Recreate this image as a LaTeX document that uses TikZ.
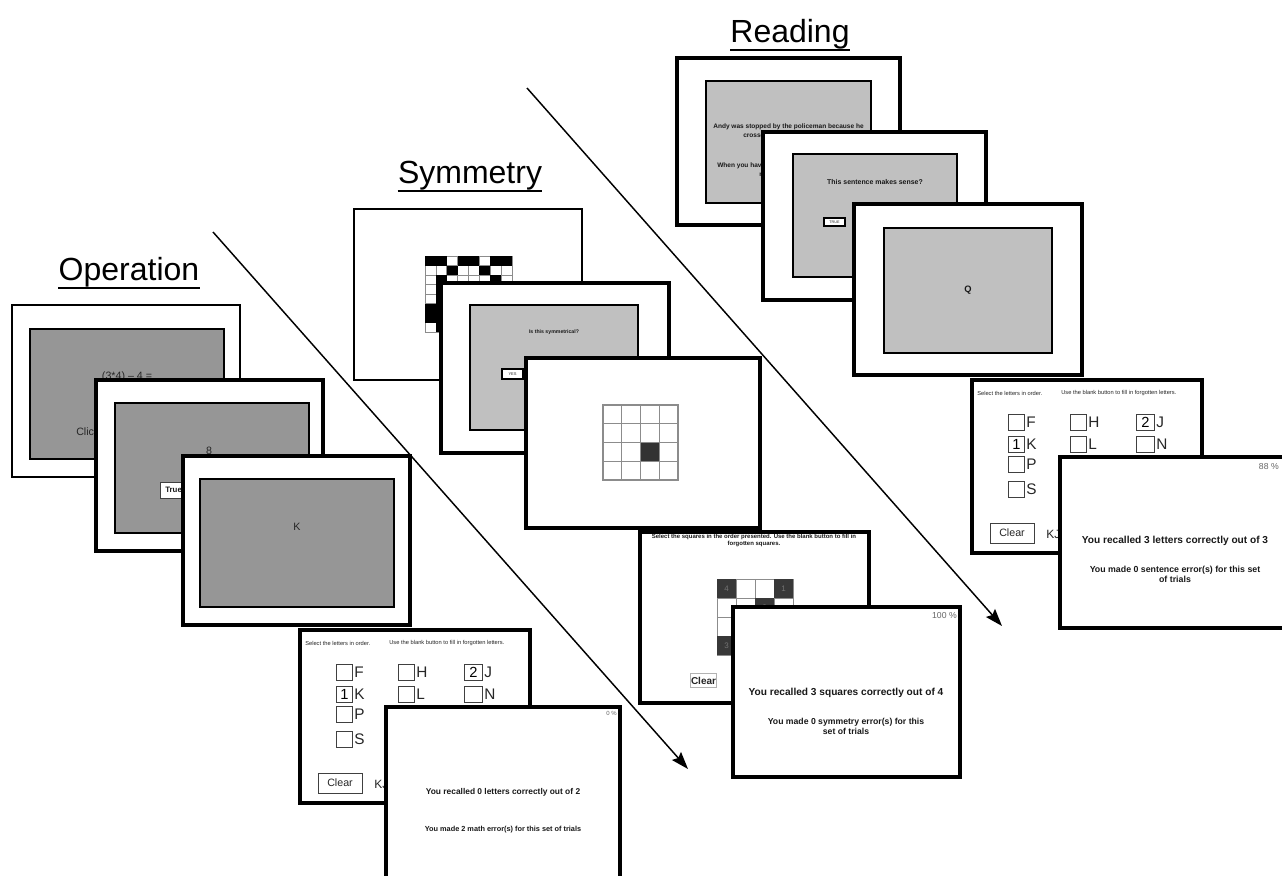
\documentclass[tikz,border=0pt]{standalone}
\usepackage{fontspec}
\setmainfont{Liberation Sans}
\usetikzlibrary{arrows.meta}
\definecolor{opgray}{HTML}{969696}
\definecolor{lightpane}{HTML}{C0C0C0}

\begin{document}
\begin{tikzpicture}[x=0.75pt,y=-0.75pt,>={Stealth[length=13pt,width=9pt,inset=2pt]},
                    screen/.style={draw=black,line width=1.5pt,fill=white},
                    heavy/.style={screen,line width=2.3pt},
                    pane/.style={draw=black,line width=1.6pt,fill=#1},
                    pane/.default=opgray,
                    txt/.style={inner sep=0,text=black!85,font=\fontsize{#1}{#1}\selectfont},
                    boldtxt/.style={inner sep=0,align=center,text=black!90,font=\bfseries\fontsize{#1}{#1}\selectfont},
                    heading/.style={inner sep=0,anchor=base,font=\fontsize{24}{24}\selectfont},
                    cell/.style={draw=black!45,line width=0.5pt},
                    chk/.style={draw=black!75,line width=0.6pt,minimum height=12pt,inner sep=0,anchor=west,font=\fontsize{11}{11}\selectfont},
                    btn/.style={draw=black!75,line width=0.6pt,fill=white,inner sep=0,text=black!85},
                    letters/.pic={
                      \draw[heavy,line width=2.8pt] (0,0) rectangle (230,173);
                      \node[txt=4.3,anchor=west] (-sel) at (5,13) {Select the letters in order.};
                      \node[txt=4.3,anchor=west] (-use) at (89,13) {Use the blank button to fill in forgotten letters.};
                      \foreach \x/\y/\ltr/\dig/\w in {36/42/F//12,36/64/K/1/12,36/84/P//12,36/109/S//12,
                                                     98/42/H//12,98/64/L//12,164/42/J/2/13.5,164/64/N//13.5}{
                        \node[chk,minimum width=\w pt] (-box\ltr) at (\x,\y) {\dig};
                        \node[txt=11.5,anchor=west] (-ltr\ltr) at ([xshift=1pt]-box\ltr.east) {\ltr};
                      }
                      \node[btn,minimum width=33pt,minimum height=15pt,font=\fontsize{8}{8}\selectfont] (-clear) at (40,153) {Clear};
                      \node[txt=9,anchor=west] (-kj) at (74,154) {KJ};
                    }]

  \path[use as bounding box,clip] (0,0) rectangle (1282,875);
  \fill[white] (0,0) rectangle (1282,875);

  % dividing arrows
  \coordinate (opfrom) at (213,232);
  \coordinate (opto) at (688,769);
  \coordinate (symfrom) at (527,88);
  \coordinate (symto) at (1002,626);
  \draw[->,line width=1.1pt] (opfrom) -- (opto);
  \draw[->,line width=1.1pt] (symfrom) -- (symto);

  % titles
  \node[heading] (optitle) at (129,280) {Operation};
  \node[heading] (symtitle) at (470,183) {Symmetry};
  \node[heading] (rdtitle) at (790,42) {Reading};
  \foreach \ttl in {optitle,symtitle,rdtitle}
    \draw[line width=1.3pt] ([yshift=-0.6pt]\ttl.south west) -- ([yshift=-0.6pt]\ttl.south east);

  % Operation
  \draw[screen] (12,305) rectangle (240,477);
  \draw[pane] (30,329) rectangle (224,459);
  \node[txt=8] (opeq) at (127,377) {(3*4) \textendash\ 4 =};
  \node[txt=8,anchor=west] (opclick) at (76,432) {Click};
  \draw[heavy] (96,380) rectangle (323,551);
  \draw[pane] (115,403) rectangle (309,533);
  \node[txt=8] (opanswer) at (209,451) {8};
  \draw[draw=black!75,line width=0.6pt,fill=white] (160,482) rectangle (205,498);
  \node[boldtxt=5.9,anchor=west] (optrue) at (165,490) {True};
  \draw[heavy] (183,456) rectangle (410,625);
  \draw[pane] (200,479) rectangle (394,607);
  \node[txt=8] (opletter) at (297,527) {K};
  \pic (opl) at (300,630) {letters};
  \draw[heavy] (386,707) rectangle (620,900);
  \node[txt=4.5,text=black!60,anchor=east] (oppct) at (617,713) {0 \%};
  \node[boldtxt=6.3] (oprecall) at (503,792) {You recalled 0 letters correctly out of 2};
  \node[boldtxt=5.5] (operrors) at (503,830) {You made 2 math error(s) for this set of trials};

  % Symmetry
  \draw[screen] (354,209) rectangle (582,380);
  \foreach \r in {0,...,7}
    \foreach \c in {0,...,7}
      \draw[cell] (425+\c*10.875,256+\r*9.5) rectangle +(10.875,9.5);
  \foreach \c/\r in {0/0,1/0,3/0,4/0,6/0,7/0,2/1,5/1,1/2,6/2,1/3,6/3,1/4,6/4,
                     0/5,1/5,6/5,7/5,0/6,1/6,6/6,7/6,1/7,6/7}
    \fill[black] (425+\c*10.875,256+\r*9.5) rectangle +(10.875,9.5);
  \draw[heavy] (441,283) rectangle (669,453);
  \draw[pane=lightpane] (470,305) rectangle (638,430);
  \node[boldtxt=3.9] (symquestion) at (554,332) {Is this symmetrical?};
  \node[btn,draw=black,line width=1.4pt,minimum width=15.75pt,minimum height=7.5pt,font=\fontsize{3}{3}\selectfont] (symyes) at (512.5,374) {YES};
  \draw[heavy] (526,358) rectangle (760,528);
  \foreach \r in {0,...,3}
    \foreach \c in {0,...,3}
      \draw[cell,line width=0.8pt] (603+\c*18.75,405+\r*18.75) rectangle +(18.75,18.75);
  \fill[black!80] (603+2*18.75,405+2*18.75) rectangle +(18.75,18.75);
  \draw[heavy] (640,532) rectangle (869,703);
  \node[boldtxt=4.5,font=\bfseries\fontsize{4.5}{5.3}\selectfont] (symselect) at (754,540.5)
    {Select the squares in the order presented. Use the blank button to fill in\\forgotten squares.};
  \foreach \r in {0,...,3}
    \foreach \c in {0,...,3}
      \draw[cell] (717+\c*19,579+\r*19) rectangle +(19,19);
  \foreach \c/\r/\nr in {0/0/4,3/0/1,2/1/2,0/3/3}{
    \fill[black!78] (717+\c*19,579+\r*19) rectangle +(19,19);
    \node[txt=6,text=black!55] (sq\nr) at (726.5+\c*19,588.5+\r*19) {\nr};
  }
  \node[btn,draw=black!30,minimum width=20pt,minimum height=11pt,font=\bfseries\fontsize{7.5}{7.5}\selectfont] (symclear) at (703.5,680.5) {Clear};
  \draw[heavy] (733,607) rectangle (960,777);
  \node[txt=6.5,text=black!60,anchor=east] (sympct) at (957,616) {100 \%};
  \node[boldtxt=7.6] (symrecall) at (846,693) {You recalled 3 squares correctly out of 4};
  \node[boldtxt=6.5,font=\bfseries\fontsize{6.5}{7.5}\selectfont] (symerrors) at (846,726)
    {You made 0 symmetry error(s) for this\\set of trials};

  % Reading
  \draw[heavy] (677,58) rectangle (900,225);
  \draw[pane=lightpane] (706,81) rectangle (871,203);
  \node[boldtxt=4.9] (rdsentence) at (788.5,127) {Andy was stopped by the policeman because he};
  \node[boldtxt=4.9,anchor=west] (rdcross) at (743,136) {crosse};
  \node[boldtxt=4.9,anchor=west] (rdwhen) at (717,166) {When you hav};
  \node[boldtxt=4.9,anchor=west] (rdm) at (759,175) {m};
  \draw[heavy] (763,132) rectangle (986,300);
  \draw[pane=lightpane] (793,154) rectangle (957,277);
  \node[boldtxt=5.2] (rdquestion) at (875,182) {This sentence makes sense?};
  \node[btn,draw=black,line width=1.3pt,minimum width=15.75pt,minimum height=6pt,font=\fontsize{2.8}{2.8}\selectfont] (rdtrue) at (834.5,222) {TRUE};
  \draw[heavy] (854,204) rectangle (1082,375);
  \draw[pane=lightpane] (884,228) rectangle (1052,353);
  \node[boldtxt=7] (rdletter) at (968,290) {Q};
  \pic (rdl) at (972,380) {letters};
  \draw[heavy] (1060,457) rectangle (1292,628);
  \node[txt=6.5,text=black!60,anchor=east] (rdpct) at (1279,467) {88 \%};
  \node[boldtxt=7.6] (rdrecall) at (1175,541) {You recalled 3 letters correctly out of 3};
  \node[boldtxt=6.6,font=\bfseries\fontsize{6.6}{7.5}\selectfont] (rderrors) at (1175,574)
    {You made 0 sentence error(s) for this set\\of trials};
\end{tikzpicture}
\end{document}
